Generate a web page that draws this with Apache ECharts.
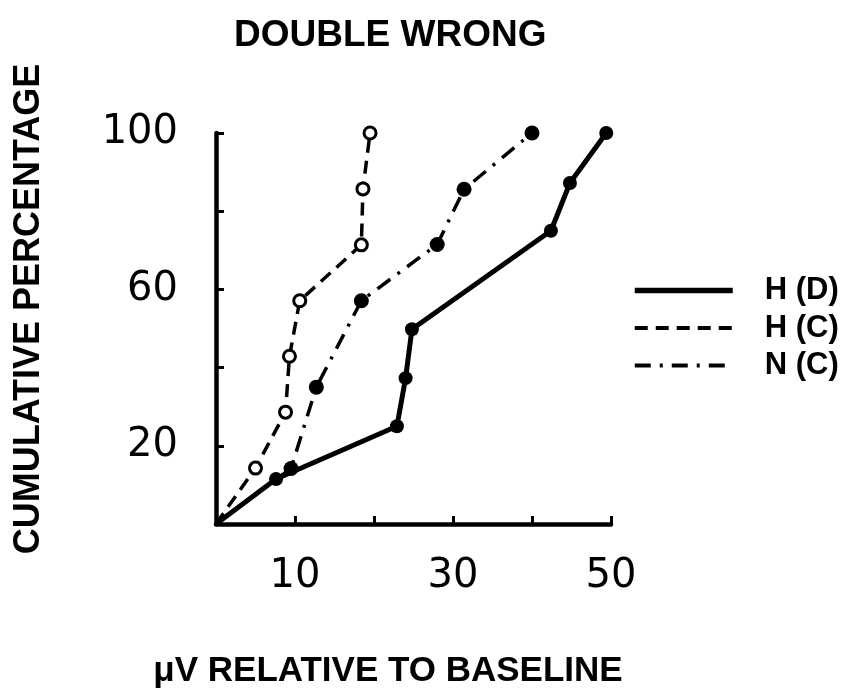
<!DOCTYPE html>
<html>
<head>
<meta charset="utf-8">
<script src="https://cdn.jsdelivr.net/npm/echarts@6/dist/echarts.min.js"></script>
<style>
html,body{margin:0;padding:0;background:#fff;}
#chart{width:847px;height:695px;}
</style>
</head>
<body>
<div id="chart"></div>
<script>
// ---- data ----
var titleText = 'DOUBLE WRONG';
var xTitle = 'μV RELATIVE TO BASELINE';
var yTitle = 'CUMULATIVE PERCENTAGE';
var seriesNames = ['H (D)', 'H (C)', 'N (C)'];

var hdX = [0, 7.6, 22.9, 24.0, 24.8, 42.4, 44.8, 49.4];
var hdY = [0, 11.5, 25.0, 37.3, 49.8, 75.0, 87.2, 100];

var hcX = [0, 5.0, 8.8, 9.3, 10.6, 18.4, 18.6, 19.5];
var hcY = [0, 14.3, 28.6, 42.9, 57.1, 71.4, 85.7, 100];

var ncX = [0, 9.5, 12.7, 18.4, 28.0, 31.4, 40.0];
var ncY = [0, 14.2, 35.0, 57.1, 71.5, 85.6, 100];

var xTickLabels = [10, 30, 50];
var yTickLabels = [20, 60, 100];

function pts(xs, ys) {
  return xs.map(function (x, i) {
    if (i === 0) return { value: [x, ys[i]], symbol: 'none' };
    return [x, ys[i]];
  });
}

var lineStyles = [
  { color: '#000', width: 5, type: 'solid' },
  { color: '#000', width: 3.5, type: [13, 8] },
  { color: '#000', width: 3.5, type: [16, 9, 3, 9] }
];

var chart = echarts.init(document.getElementById('chart'), null, { renderer: 'canvas' });
var FONT = '"Liberation Sans", Arial, sans-serif';
var option = {
  backgroundColor: '#fff',
  animation: false,
  title: {
    text: titleText,
    left: 234,
    top: 17,
    padding: 0,
    textStyle: { fontFamily: FONT, fontSize: 37, fontWeight: 'bold', color: '#000' }
  },
  legend: {
    orient: 'vertical',
    left: 632,
    top: 275,
    itemWidth: 98,
    itemHeight: 30,
    itemGap: 6.5,
    padding: 0,
    itemStyle: { opacity: 0 },
    textStyle: { fontFamily: FONT, fontSize: 31, fontWeight: 'bold', color: '#000', padding: [0, 0, 0, 27] },
    data: seriesNames.map(function (n, i) {
      return { name: n, lineStyle: { color: '#000', width: lineStyles[i].width + 0.5, type: lineStyles[i].type } };
    })
  },
  grid: { left: 216, top: 133, width: 395, height: 391, containLabel: false },
  xAxis: {
    type: 'value', min: 0, max: 50, interval: 10,
    name: xTitle, nameLocation: 'middle', nameGap: 130,
    nameTextStyle: { fontFamily: FONT, fontSize: 35, fontWeight: 'bold', color: '#000', padding: [0, 51, 0, 0] },
    axisLine: { show: true, lineStyle: { color: '#000', width: 4.5 } },
    axisTick: { show: true, inside: true, length: 8, lineStyle: { color: '#000', width: 3 } },
    axisLabel: {
      margin: 33, fontFamily: '"DejaVu Sans", sans-serif', fontSize: 40, color: '#000',
      formatter: function (v) { return xTickLabels.indexOf(v) >= 0 ? String(v) : ''; }
    },
    splitLine: { show: false }
  },
  yAxis: {
    type: 'value', min: 0, max: 100, interval: 20,
    name: yTitle, nameLocation: 'middle', nameGap: 169, nameRotate: 90,
    nameTextStyle: { fontFamily: FONT, fontSize: 36, fontWeight: 'bold', color: '#000', padding: [0, 0, 0, 39] },
    axisLine: { show: true, lineStyle: { color: '#000', width: 4.5 } },
    axisTick: { show: true, inside: true, length: 8, lineStyle: { color: '#000', width: 3 } },
    axisLabel: {
      margin: 38, fontFamily: '"DejaVu Sans", sans-serif', fontSize: 40, color: '#000',
      formatter: function (v) { return yTickLabels.indexOf(v) >= 0 ? String(v) : ''; }
    },
    splitLine: { show: false }
  },
  series: [
    {
      name: seriesNames[0], type: 'line', data: pts(hdX, hdY),
      symbol: 'circle', symbolSize: 14, showSymbol: true,
      lineStyle: lineStyles[0],
      itemStyle: { color: '#000', borderColor: '#000', borderWidth: 0 },
      z: 3
    },
    {
      name: seriesNames[1], type: 'line', data: pts(hcX, hcY),
      symbol: 'circle', symbolSize: 12, showSymbol: true,
      lineStyle: lineStyles[1],
      itemStyle: { color: '#fff', borderColor: '#000', borderWidth: 3 },
      z: 2
    },
    {
      name: seriesNames[2], type: 'line', data: pts(ncX, ncY),
      symbol: 'circle', symbolSize: 15, showSymbol: true,
      lineStyle: lineStyles[2],
      itemStyle: { color: '#000', borderColor: '#000', borderWidth: 0 },
      z: 2
    }
  ]
};
chart.setOption(option);
</script>
</body>
</html>
